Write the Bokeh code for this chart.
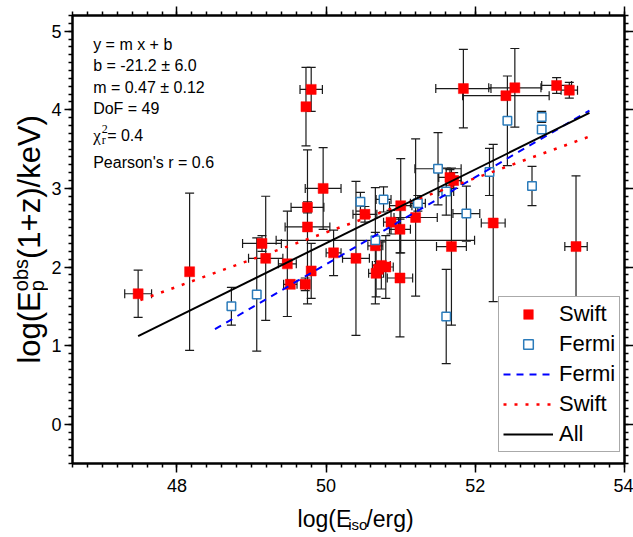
from bokeh.plotting import figure
from bokeh.layouts import row, column
from bokeh.models import (Range1d, LinearAxis, SingleIntervalTicker, ColumnDataSource,
                          Whisker, TeeHead, Label, Legend, LegendItem, CustomJSTickFormatter)
from bokeh.embed import file_html
from bokeh.resources import INLINE
from math import pi

FONT = "Liberation Sans"
SERIF = "Liberation Serif"

# ---------------- data ----------------
swift_x = [47.48, 48.17, 49.14, 49.19, 49.48, 49.52, 49.72, 49.75, 49.75, 49.80,
           49.73, 49.80, 49.96, 50.10, 50.40, 50.52, 50.66, 50.74, 50.80, 50.67,
           50.70, 50.99, 50.87, 50.99, 51.00, 51.20, 51.66, 51.71, 51.68, 52.24,
           53.35, 51.84, 52.41, 52.53, 53.09, 53.26]
swift_y = [1.66, 1.94, 2.30, 2.11, 2.04, 1.78, 1.78, 2.76, 2.51, 1.95,
           4.04, 4.26, 3.00, 2.18, 2.11, 2.67, 2.27, 2.02, 2.00, 1.92,
           1.97, 1.86, 2.57, 2.48, 2.78, 2.63, 3.14, 3.10, 2.26, 2.56,
           2.26, 4.27, 4.18, 4.28, 4.31, 4.25]
swift_xerr = [0.18, 0.00, 0.26, 0.23, 0.12, 0.09, 0.06, 0.22, 0.30, 0.05,
              0.00, 0.15, 0.24, 0.10, 0.18, 0.16, 0.10, 0.12, 0.10, 0.10,
              0.05, 0.17, 0.10, 0.14, 0.15, 0.29, 0.15, 0.10, 0.20, 0.16,
              0.15, 0.37, 0.58, 0.35, 0.20, 0.11]
swift_yerr = [0.30, 1.00, 0.10, 0.79, 0.67, 0.05, 0.08, 0.07, 0.98, 0.35,
              0.50, 0.28, 0.52, 0.29, 0.98, 0.10, 0.74, 0.30, 0.40, 0.30,
              0.10, 0.75, 0.15, 0.30, 0.60, 1.00, 0.10, 0.10, 1.00, 1.00,
              0.90, 0.50, 0.05, 0.50, 0.10, 0.10]

fermi_x = [48.73, 49.07, 50.46, 50.66, 50.77, 51.23, 51.50, 51.61, 51.61, 51.88,
           52.19, 52.43, 52.76, 52.89, 52.89]
fermi_y = [1.50, 1.65, 2.83, 2.34, 2.86, 2.81, 3.25, 2.96, 1.37, 2.68,
           3.21, 3.86, 3.03, 3.91, 3.75]
fermi_xerr = [0.00, 0.00, 0.05, 1.33, 0.10, 0.10, 0.31, 0.10, 0.00, 0.18,
              0.05, 0.00, 0.00, 0.00, 0.00]
fermi_yerr = [0.24, 0.72, 0.12, 0.10, 0.16, 0.10, 0.46, 0.30, 0.60, 0.35,
              0.30, 0.57, 0.25, 0.07, 0.05]

fit_all_x = [47.48, 53.53]
fit_all_y = [1.12, 3.96]
fit_fermi_x = [48.51, 53.53]
fit_fermi_y = [1.21, 3.99]
fit_swift_x = [47.51, 53.53]
fit_swift_y = [1.58, 3.66]

x_tick_interval = 2
y_tick_interval = 1

fit_lines_text = ["y = m x + b", "b = -21.2 \u00b1 6.0", "m = 0.47 \u00b1 0.12", "DoF = 49"]
chi_text = "= 0.4"
pearson_text = "Pearson's r = 0.6"

# ---------------- geometry ----------------
PAGE_W, PAGE_H = 633, 537
YL_W = 48          # strip holding the y-axis title
XL_H = 37          # strip holding the x-axis title
MAIN_W = PAGE_W - YL_W
MAIN_H = PAGE_H - XL_H

# ---------------- main figure ----------------
p = figure(width=MAIN_W, height=MAIN_H, output_backend="svg", toolbar_location=None,
           x_range=Range1d(46.6, 54.0), y_range=Range1d(-0.5, 5.2),
           min_border_left=21, min_border_right=8, min_border_top=15, min_border_bottom=37,
           background_fill_color="white", border_fill_color="white")
p.xgrid.visible = False
p.ygrid.visible = False
p.outline_line_color = "black"
p.outline_line_width = 2


def style_axis(ax, tick_out=9):
    ax.axis_line_color = "black"
    ax.axis_line_width = 2
    ax.major_tick_in = 0
    ax.major_tick_out = tick_out
    ax.minor_tick_in = 0
    ax.minor_tick_out = 4
    ax.major_tick_line_width = 1.5
    ax.minor_tick_line_width = 1.5
    ax.major_tick_line_color = "black"
    ax.minor_tick_line_color = "black"
    ax.major_label_text_font = FONT
    ax.major_label_text_font_size = "18px"
    ax.major_label_text_color = "black"
    ax.axis_label = None


p.xaxis.ticker = SingleIntervalTicker(interval=x_tick_interval, num_minor_ticks=10)
p.yaxis.ticker = SingleIntervalTicker(interval=y_tick_interval, num_minor_ticks=10)
style_axis(p.xaxis[0])
style_axis(p.yaxis[0], tick_out=8)
p.xaxis.major_label_standoff = 6
p.yaxis.major_label_standoff = 3

blank = CustomJSTickFormatter(code="return ''")
top = LinearAxis(ticker=SingleIntervalTicker(interval=x_tick_interval, num_minor_ticks=10), formatter=blank)
right = LinearAxis(ticker=SingleIntervalTicker(interval=y_tick_interval, num_minor_ticks=10), formatter=blank)
for ax in (top, right):
    style_axis(ax)
    ax.major_label_standoff = 0
    ax.major_label_text_font_size = "0px"
p.add_layout(top, "above")
p.add_layout(right, "right")

# ---------------- error bars ----------------
EB = "#1a1a1a"


def add_errors(xs, ys, xe, ye):
    vx = [x for x, e in zip(xs, ye) if e > 0]
    vlo = [y - e for y, e in zip(ys, ye) if e > 0]
    vhi = [y + e for y, e in zip(ys, ye) if e > 0]
    hy = [y for y, e in zip(ys, xe) if e > 0]
    hlo = [x - e for x, e in zip(xs, xe) if e > 0]
    hhi = [x + e for x, e in zip(xs, xe) if e > 0]
    sv = ColumnDataSource(dict(base=vx, lower=vlo, upper=vhi))
    sh = ColumnDataSource(dict(base=hy, lower=hlo, upper=hhi))
    for src, dim in ((sv, "height"), (sh, "width")):
        w = Whisker(source=src, base="base", lower="lower", upper="upper", dimension=dim,
                    line_color=EB, line_width=1.2,
                    upper_head=TeeHead(size=9, line_color=EB, line_width=1.2),
                    lower_head=TeeHead(size=9, line_color=EB, line_width=1.2))
        p.add_layout(w)


add_errors(swift_x, swift_y, swift_xerr, swift_yerr)
add_errors(fermi_x, fermi_y, fermi_xerr, fermi_yerr)

# ---------------- markers and fits ----------------
r_sw = p.scatter(swift_x, swift_y, marker="square", size=10, fill_color="#ff0000", line_color="#ff0000",
                 line_width=0.5)
r_fe = p.scatter(fermi_x, fermi_y, marker="square", size=8.5, fill_color="white", line_color="#2b7bba",
                 line_width=1.5)
r_lf = p.line(fit_fermi_x, fit_fermi_y, line_color="#0000ff", line_dash="7 6", line_width=2)
r_ls = p.line(fit_swift_x, fit_swift_y, line_color="#ff0000", line_dash="3 8", line_width=2.5)
r_la = p.line(fit_all_x, fit_all_y, line_color="black", line_width=2)

legend = Legend(items=[LegendItem(label="Swift", renderers=[r_sw]),
                       LegendItem(label="Fermi", renderers=[r_fe]),
                       LegendItem(label="Fermi", renderers=[r_lf]),
                       LegendItem(label="Swift", renderers=[r_ls]),
                       LegendItem(label="All", renderers=[r_la])],
                location=(426, 11), margin=0, padding=4, spacing=4,
                glyph_width=50, glyph_height=24, label_height=24, label_standoff=6,
                label_text_font=FONT, label_text_font_size="22px", label_text_color="black",
                border_line_color="#555555", border_line_width=1.5,
                background_fill_color="white", background_fill_alpha=1.0)
p.add_layout(legend)

# ---------------- text (Liberation Sans = Arial metrics) ----------------
W = {' ': 278, '(': 333, ')': 333, '/': 278, '+': 584, '=': 584, '-': 333, '.': 278,
     'a': 556, 'b': 556, 'e': 556, 'g': 556, 'i': 222, 'k': 500, 'l': 222, 'o': 556,
     'p': 556, 'r': 333, 's': 500, 'z': 500, 'E': 667, 'V': 667, '1': 556}


def tw(s, size):
    return sum(W.get(c, 556) for c in s) * size / 1000.0


def run(fig, text, x, y, xo, yo, size, font=FONT, angle=0.0, baseline="alphabetic"):
    fig.add_layout(Label(x=x, y=y, x_offset=xo, y_offset=yo, text=text, text_font=font,
                         text_font_size=f"{size}px", text_color="black", angle=angle,
                         text_align="left", text_baseline=baseline))


# statistics block (inside the frame)
TX = 46.877
for s, yb in zip(fit_lines_text, [4.83, 4.56, 4.29, 4.02]):
    run(p, s, TX, yb, 0, 0, 16)
run(p, "\u03c7", TX, 3.669, 0, 0, 17, font=SERIF)
run(p, "r", TX, 3.669, 8.5, -4, 12, font=SERIF)
run(p, "2", TX, 3.669, 8.5, 7, 12, font=SERIF)
run(p, chi_text, TX, 3.669, 14, 0, 16)
run(p, pearson_text, TX, 3.331, 0, 0, 16)


def strip(w, h):
    f = figure(width=w, height=h, output_backend="svg", toolbar_location=None,
               x_range=Range1d(0, w), y_range=Range1d(0, h),
               x_axis_location=None, y_axis_location=None, min_border=0,
               background_fill_color="white", border_fill_color="white")
    f.grid.visible = False
    f.outline_line_color = None
    return f


# x axis title strip: log(E_iso/erg)
F, S = 23, 15
xl = strip(MAIN_W, XL_H)
a, b, c = "log(E", "iso", "/erg)"
total = tw(a, F) + tw(b, S) + tw(c, F)
cx = (69.3 + 624.0) / 2 - YL_W
x0 = cx - total / 2
base = 19
run(xl, a, x0, base, 0, 0, F)
run(xl, b, x0 + tw(a, F), base - 6, 0, 0, S)
run(xl, c, x0 + tw(a, F) + tw(b, S), base, 0, 0, F)

# y axis title strip: log(E_p^obs(1+z)/keV)  (rotated; "bottom" keeps descenders inside the strip)
FY, SY = 31, 20
yl = strip(YL_W, PAGE_H)
a, sb, sp, c = "log(E", "p", "obs", "(1+z)/keV)"
total = tw(a, FY) + tw(sp, SY) + tw(c, FY)
cy = PAGE_H - (15 + 462.7) / 2
y0 = cy - total / 2
bx = YL_W - 2
run(yl, a, bx, y0, 0, 0, FY, angle=pi / 2, baseline="bottom")
run(yl, sb, bx + 1, y0 + tw(a, FY), 0, 0, SY, angle=pi / 2, baseline="bottom")
run(yl, sp, bx - 15, y0 + tw(a, FY), 0, 0, SY, angle=pi / 2, baseline="bottom")
run(yl, c, bx, y0 + tw(a, FY) + tw(sp, SY), 0, 0, FY, angle=pi / 2, baseline="bottom")

layout = row(yl, column(p, xl, spacing=0), spacing=0)
open("out.html", "w").write(file_html(layout, INLINE))
